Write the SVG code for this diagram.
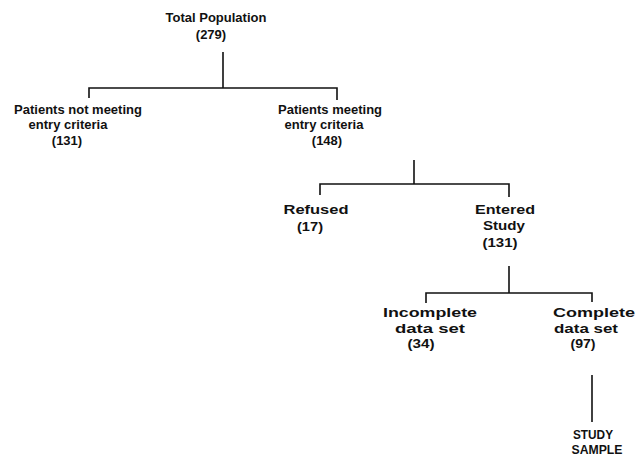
<svg xmlns="http://www.w3.org/2000/svg" width="642" height="457" viewBox="0 0 642 457">
<style>
text{font-family:"Liberation Sans",Arial,sans-serif;font-weight:bold;font-size:13px;fill:#111;text-anchor:middle}
.m{font-size:14.5px}
.l{font-size:16px}
.s{font-size:14px}
.c{fill:none;stroke:#111;stroke-width:1.6}
</style>
<rect width="642" height="457" fill="#fff"/>
<g id="connectors" class="c">
<path d="M223,52V88M89,98V88H337V100"/>
<path d="M414,160V184M320,195V184H509V197"/>
<path d="M509,266V293M426,303V293H592V302"/>
<path d="M592,375V422"/>
</g>
<g id="total"><text x="216" y="22">Total Population</text><text x="211" y="39">(279)</text></g>
<g id="not-meeting"><text x="78" y="114">Patients not meeting</text><text x="68" y="129">entry criteria</text><text x="67" y="145">(131)</text></g>
<g id="meeting"><text x="330" y="114">Patients meeting</text><text x="324" y="129">entry criteria</text><text x="327" y="145">(148)</text></g>
<g id="refused" class="m"><text x="316" y="214" textLength="65" lengthAdjust="spacingAndGlyphs">Refused</text><text x="310" y="231" textLength="26" lengthAdjust="spacingAndGlyphs">(17)</text></g>
<g id="entered" class="m"><text x="505" y="214" textLength="60" lengthAdjust="spacingAndGlyphs">Entered</text><text x="504" y="230" textLength="42" lengthAdjust="spacingAndGlyphs">Study</text><text x="500" y="247" textLength="35" lengthAdjust="spacingAndGlyphs">(131)</text></g>
<g id="incomplete" class="l"><text x="430" y="317" textLength="94" lengthAdjust="spacingAndGlyphs">Incomplete</text><text x="430" y="333" textLength="70" lengthAdjust="spacingAndGlyphs">data set</text><text x="421" y="348" textLength="27" lengthAdjust="spacingAndGlyphs">(34)</text></g>
<g id="complete" class="l"><text x="594" y="317" textLength="82" lengthAdjust="spacingAndGlyphs">Complete</text><text x="586" y="333" textLength="64" lengthAdjust="spacingAndGlyphs">data set</text><text x="583" y="348" textLength="25" lengthAdjust="spacingAndGlyphs">(97)</text></g>
<g id="sample" class="s"><text x="593" y="439" textLength="40" lengthAdjust="spacingAndGlyphs">STUDY</text><text x="597" y="454" textLength="51" lengthAdjust="spacingAndGlyphs">SAMPLE</text></g>
</svg>
